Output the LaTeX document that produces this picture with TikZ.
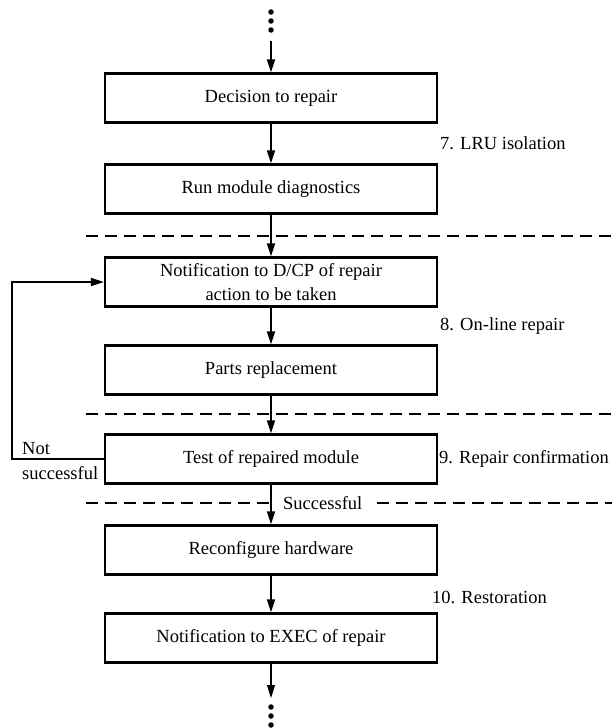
\documentclass[tikz,border=0pt]{standalone}
\usepackage{fontspec}
\setmainfont{Liberation Serif}
\usetikzlibrary{arrows.meta}
\begin{document}
\begin{tikzpicture}[x=1pt,y=1pt,
  stepbox/.style={draw,line width=2.3pt,minimum width=332pt,minimum height=49pt,inner sep=0pt,align=center,font=\fontsize{18.5}{24}\selectfont},
  lbl/.style={inner sep=0pt,font=\fontsize{18.5}{22}\selectfont},
  conn/.style={line width=1.5pt,-{Triangle[length=13pt,width=8pt]}},
  sep/.style={line width=1.8pt,dash pattern=on 12pt off 7pt},
  dotc/.style={fill=black,circle,inner sep=0pt,minimum size=5.5pt}]
\useasboundingbox (0,0) rectangle (612,-728);
\node[stepbox] (b1) at (271,-98) {Decision to repair};
\node[stepbox] (b2) at (271,-189) {Run module diagnostics};
\node[stepbox] (b3) at (271,-282) {Notification to D/CP of repair\\action to be taken};
\node[stepbox] (b4) at (271,-370) {Parts replacement};
\node[stepbox] (b5) at (271,-459) {Test of repaired module};
\node[stepbox] (b6) at (271,-550) {Reconfigure hardware};
\node[stepbox] (b7) at (271,-638) {Notification to EXEC of repair};
% top dots
\node[dotc] (d1) at (271,-12) {};
\node[dotc] (d2) at (271,-21) {};
\node[dotc] (d3) at (271,-30) {};
\coordinate (tin) at (271,-41);
% bottom dots
\coordinate (tout) at (271,-698);
\node[dotc] (e1) at (271,-707) {};
\node[dotc] (e2) at (271,-716) {};
\node[dotc] (e3) at (271,-725) {};
% connectors
\draw[conn] (tin) -- (b1.north);
\draw[conn] (b1) -- (b2);
\draw[conn] (b2) -- (b3);
\draw[conn] (b3) -- (b4);
\draw[conn] (b4) -- (b5);
\draw[conn] (b5) -- (b6);
\draw[conn] (b6) -- (b7);
\draw[conn] (b7.south) -- (tout);
% feedback loop
\coordinate (fb1) at (12,-459);
\coordinate (fb2) at (12,-282);
\draw[conn] (b5.west) -- (fb1) -- (fb2) -- (b3.west);
\node[lbl,anchor=west] (ns1) at (22,-449) {Not};
\node[lbl,anchor=west] (ns2) at (22,-473) {successful};
% separators
\coordinate (s1a) at (86,-236); \coordinate (s1b) at (612,-236);
\coordinate (s2a) at (86,-414); \coordinate (s2b) at (612,-414);
\coordinate (s3a) at (86,-503); \coordinate (s3b) at (270,-503);
\coordinate (s3c) at (377,-503); \coordinate (s3d) at (612,-503);
\draw[sep] (s1a) -- (s1b);
\draw[sep] (s2a) -- (s2b);
\draw[sep] (s3a) -- (s3b);
\draw[sep] (s3c) -- (s3d);
\node[lbl,anchor=west] (succ) at (283,-503) {Successful};
% phase labels
\node[lbl,anchor=west] (p7) at (440,-143) {7. LRU isolation};
\node[lbl,anchor=west] (p8) at (440,-326) {8. On-line repair};
\node[lbl,anchor=west] (p9) at (439,-459) {9. Repair confirmation};
\node[lbl,anchor=west] (p10) at (432,-597) {10. Restoration};
\end{tikzpicture}
\end{document}
